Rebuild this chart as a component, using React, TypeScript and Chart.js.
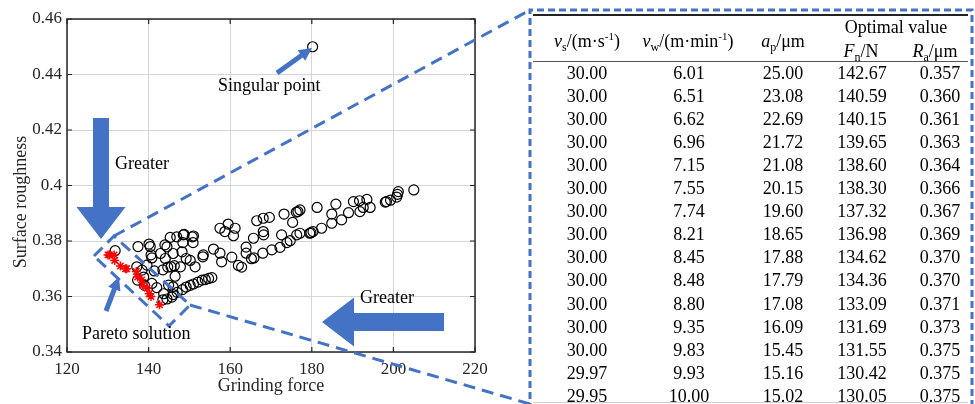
import React, { useEffect, useRef } from 'react';
import { Chart, registerables } from 'chart.js';

Chart.register(...registerables);

// ---------- Data ----------
const xTickValues = [120, 140, 160, 180, 200, 220];
const yTickLabels = ['0.34', '0.36', '0.38', '0.4', '0.42', '0.44', '0.46'];
const yTickValues = yTickLabels.map(Number);

// Pareto table (optimal solutions)
const vsCol = ['30.00', '30.00', '30.00', '30.00', '30.00', '30.00', '30.00', '30.00', '30.00', '30.00', '30.00', '30.00', '30.00', '29.97', '29.95'];
const vwCol = ['6.01', '6.51', '6.62', '6.96', '7.15', '7.55', '7.74', '8.21', '8.45', '8.48', '8.80', '9.35', '9.83', '9.93', '10.00'];
const apCol = ['25.00', '23.08', '22.69', '21.72', '21.08', '20.15', '19.60', '18.65', '17.88', '17.79', '17.08', '16.09', '15.45', '15.16', '15.02'];
const fnCol = ['142.67', '140.59', '140.15', '139.65', '138.60', '138.30', '137.32', '136.98', '134.62', '134.36', '133.09', '131.69', '131.55', '130.42', '130.05'];
const raCol = ['0.357', '0.360', '0.361', '0.363', '0.364', '0.366', '0.367', '0.369', '0.370', '0.370', '0.371', '0.373', '0.375', '0.375', '0.375'];

// Other (non-Pareto) solutions: grinding force / surface roughness
const otherForce = [
  180.2,
  205.0, 201.2, 201.0, 200.8, 199.3, 198.3, 198.0,
  194.3, 193.5, 192.6, 191.8, 191.7, 190.2, 189.0, 187.3, 185.9, 184.9, 184.9, 182.4, 181.3, 180.3, 179.8, 179.5,
  177.1, 176.6, 176.2, 177.1, 176.3, 175.3, 174.7, 173.9, 173.2, 172.6, 172.2, 170.2, 169.6, 168.1, 168.0, 168.1, 168.2,
  166.5, 165.7, 165.8, 165.2, 163.9, 163.9, 162.8, 162.0, 161.2, 160.8, 160.4, 159.5, 158.7, 157.9, 157.5, 157.5, 155.9,
  155.5, 154.7, 153.9, 153.1, 152.1, 151.0, 150.2, 149.2, 148.3, 147.0, 146.0, 145.7, 144.5, 143.5,
  153.4, 153.3, 151.4, 151.0, 150.9, 150.7, 150.2, 149.2, 148.7, 148.5, 148.4, 148.2, 147.8, 146.9, 146.5, 146.0,
  146.3, 146.0, 145.3, 145.5, 144.9, 144.7, 144.5, 144.1, 144.0, 143.7, 143.5, 142.9, 142.0, 141.4, 140.8, 140.6,
  140.4, 140.1, 140.8, 139.6, 139.0, 138.8, 138.4, 137.4, 137.1, 137.3, 131.8,
];
const otherRoughness = [
  0.450,
  0.3984, 0.3978, 0.3968, 0.3958, 0.3947, 0.3942, 0.3940,
  0.3921, 0.3950, 0.3921, 0.3906, 0.3945, 0.3942, 0.3902, 0.3876, 0.3933, 0.3897, 0.3864, 0.3846, 0.3921, 0.3834, 0.3830, 0.3828,
  0.3912, 0.3906, 0.3904, 0.3828, 0.3822, 0.3867, 0.3801, 0.3794, 0.3897, 0.3822, 0.3777, 0.3768, 0.3885, 0.3882, 0.3756, 0.3834, 0.3822,
  0.3873, 0.3810, 0.3739, 0.3736, 0.3778, 0.3756, 0.3706, 0.3712, 0.3846, 0.3819, 0.3742, 0.3861, 0.3834, 0.3725, 0.3846, 0.3756, 0.3771,
  0.3668, 0.3665, 0.3661, 0.3659, 0.3652, 0.3645, 0.3640, 0.3634, 0.3625, 0.3615, 0.3607, 0.3598, 0.3591, 0.3588,
  0.3750, 0.3743, 0.3707, 0.3818, 0.3794, 0.3815, 0.3730, 0.3737, 0.3824, 0.3822, 0.3794, 0.3761, 0.3707, 0.3815, 0.3673, 0.3635,
  0.3711, 0.3755, 0.3813, 0.3707, 0.3641, 0.3706, 0.3779, 0.3737, 0.3786, 0.3610, 0.3696, 0.3755, 0.3632, 0.3692, 0.3739, 0.3750,
  0.3780, 0.3789, 0.3647, 0.3713, 0.3640, 0.3670, 0.3695, 0.3780, 0.3707, 0.3659, 0.3765,
];

// ---------- Styles ----------
const BLUE = '#4472C4';
const SERIF = '"Liberation Serif", "Times New Roman", serif';
const AXIS_COLOR = '#262626';
const TEXT_COLOR = '#000000';

function blockArrow(ctx: CanvasRenderingContext2D, x1: number, y1: number, x2: number, y2: number, shaftW: number, headW: number, headL: number) {
  const dx = x2 - x1, dy = y2 - y1;
  const len = Math.hypot(dx, dy);
  const ux = dx / len, uy = dy / len;
  const px = -uy, py = ux;
  const bx = x2 - ux * headL, by = y2 - uy * headL;
  ctx.beginPath();
  ctx.moveTo(x1 + px * shaftW / 2, y1 + py * shaftW / 2);
  ctx.lineTo(bx + px * shaftW / 2, by + py * shaftW / 2);
  ctx.lineTo(bx + px * headW / 2, by + py * headW / 2);
  ctx.lineTo(x2, y2);
  ctx.lineTo(bx - px * headW / 2, by - py * headW / 2);
  ctx.lineTo(bx - px * shaftW / 2, by - py * shaftW / 2);
  ctx.lineTo(x1 - px * shaftW / 2, y1 - py * shaftW / 2);
  ctx.closePath();
  ctx.fill();
}

const framePlugin = {
  id: 'frame',
  beforeDatasetsDraw(chart: any) {
    const ctx: CanvasRenderingContext2D = chart.ctx;
    const { left, right, top, bottom } = chart.chartArea;
    const xs = chart.scales.x, ys = chart.scales.y;
    ctx.save();
    ctx.strokeStyle = AXIS_COLOR;
    ctx.lineWidth = 1.5;
    ctx.strokeRect(left, top, right - left, bottom - top);
    ctx.lineWidth = 1.2;
    ctx.beginPath();
    xTickValues.forEach((v) => {
      const x = xs.getPixelForValue(v);
      ctx.moveTo(x, bottom); ctx.lineTo(x, bottom - 5);
      ctx.moveTo(x, top); ctx.lineTo(x, top + 5);
    });
    yTickValues.forEach((v) => {
      const y = ys.getPixelForValue(v);
      ctx.moveTo(left, y); ctx.lineTo(left + 5, y);
      ctx.moveTo(right, y); ctx.lineTo(right - 5, y);
    });
    ctx.stroke();
    // y axis title
    ctx.fillStyle = AXIS_COLOR;
    ctx.font = `18px ${SERIF}`;
    ctx.textAlign = 'center';
    ctx.textBaseline = 'middle';
    ctx.translate(21, 202);
    ctx.rotate(-Math.PI / 2);
    ctx.fillText('Surface roughness', 0, 0);
    ctx.restore();
  },
  afterDraw(chart: any) {
    const ctx: CanvasRenderingContext2D = chart.ctx;
    ctx.save();
    ctx.strokeStyle = BLUE;
    ctx.fillStyle = BLUE;
    ctx.lineWidth = 3;
    // rotated box around Pareto front + zoom lines
    ctx.setLineDash([12, 7]);
    ctx.beginPath();
    ctx.moveTo(94, 256); ctx.lineTo(114, 236); ctx.lineTo(190, 305); ctx.lineTo(169, 326); ctx.closePath();
    ctx.stroke();
    ctx.beginPath();
    ctx.moveTo(114, 236); ctx.lineTo(530, 10);
    ctx.moveTo(190, 305); ctx.lineTo(530, 404);
    ctx.stroke();
    // table frame
    ctx.setLineDash([7, 4]);
    ctx.beginPath();
    ctx.moveTo(530, 410); ctx.lineTo(530, 10); ctx.lineTo(972, 10); ctx.lineTo(972, 410);
    ctx.stroke();
    ctx.setLineDash([]);
    // arrows
    blockArrow(ctx, 101, 118, 101, 239, 16, 49, 32);
    blockArrow(ctx, 444, 322, 322, 322, 18, 49, 32);
    blockArrow(ctx, 277, 73, 312, 48, 5, 13, 13);
    blockArrow(ctx, 106, 311, 119, 277, 5, 13, 13);
    ctx.restore();
  },
};

const annotations = [
  { text: 'Singular point', x: 218, y: 85 },
  { text: 'Greater', x: 115, y: 163 },
  { text: 'Greater', x: 360, y: 297 },
  { text: 'Pareto solution', x: 82, y: 333 },
];

const colCenters = [587, 689, 783, 862, 940];
const ROW0 = 73;
const ROW_H = 23.05;

const subStyle: React.CSSProperties = { fontSize: '12px', verticalAlign: '-4px', lineHeight: 0 };
const supStyle: React.CSSProperties = { fontSize: '11px', verticalAlign: '7px', lineHeight: 0 };

function Cell({ cx, cy, children }: { cx: number; cy: number; children: React.ReactNode }) {
  return (
    <div
      style={{
        position: 'absolute', left: cx - 80, top: cy - 11, width: 160, height: 22,
        lineHeight: '22px', textAlign: 'center', whiteSpace: 'nowrap',
        fontFamily: SERIF, fontSize: '18px', color: TEXT_COLOR,
      }}
    >
      {children}
    </div>
  );
}

export default function App() {
  const canvasRef = useRef<HTMLCanvasElement | null>(null);

  useEffect(() => {
    document.body.style.margin = '0';
    const canvas = canvasRef.current;
    if (!canvas) return;
    const chart = new Chart(canvas, {
      type: 'scatter',
      data: {
        datasets: [
          {
            label: 'Pareto solution',
            data: fnCol.map((f, i) => ({ x: Number(f), y: Number(raCol[i]) })),
            pointStyle: 'star',
            radius: 4.5,
            borderColor: '#ff0000',
            backgroundColor: '#ff0000',
            borderWidth: 1.5,
          },
          {
            label: 'Solutions',
            data: otherForce.map((f, i) => ({ x: f, y: otherRoughness[i] })),
            pointStyle: 'circle',
            radius: 5,
            borderColor: '#000000',
            backgroundColor: 'rgba(0,0,0,0)',
            borderWidth: 1.2,
          },
        ],
      },
      options: {
        responsive: false,
        animation: false,
        devicePixelRatio: 1,
        layout: { padding: { left: 0, right: 500, top: 19, bottom: 0 } },
        plugins: { legend: { display: false }, tooltip: { enabled: false } },
        scales: {
          x: {
            type: 'linear',
            min: 120,
            max: 220,
            afterBuildTicks: (axis: any) => { axis.ticks = xTickValues.map((v) => ({ value: v })); },
            afterFit: (axis: any) => { axis.height = 52; },
            ticks: { font: { family: SERIF, size: 17 }, color: AXIS_COLOR, padding: 7, maxRotation: 0 },
            grid: { color: '#d6d6d6', lineWidth: 1, drawTicks: false },
            border: { display: false },
            title: { display: true, text: 'Grinding force', font: { family: SERIF, size: 18 }, color: AXIS_COLOR, padding: { top: 0, bottom: 7 } },
          },
          y: {
            type: 'linear',
            min: 0.34,
            max: 0.46,
            afterBuildTicks: (axis: any) => { axis.ticks = yTickValues.map((v) => ({ value: v })); },
            afterFit: (axis: any) => { axis.width = 67; },
            ticks: {
              font: { family: SERIF, size: 17 },
              color: AXIS_COLOR,
              padding: 5,
              callback: (_v: any, i: number) => yTickLabels[i],
            },
            grid: { color: '#d6d6d6', lineWidth: 1, drawTicks: false },
            border: { display: false },
          },
        },
      },
      plugins: [framePlugin],
    } as any);
    return () => chart.destroy();
  }, []);

  const headerItems = [
    { cx: 587, cy: 41, node: (<span><i>v</i><sub style={subStyle}>s</sub>/(m·s<sup style={supStyle}>-1</sup>)</span>) },
    { cx: 688, cy: 41, node: (<span><i>v</i><sub style={subStyle}>w</sub>/(m·min<sup style={supStyle}>-1</sup>)</span>) },
    { cx: 783, cy: 41, node: (<span><i>a</i><sub style={subStyle}>p</sub>/μm</span>) },
    { cx: 896, cy: 27, node: (<span>Optimal value</span>) },
    { cx: 861, cy: 51, node: (<span><i>F</i><sub style={subStyle}>n</sub>/N</span>) },
    { cx: 935, cy: 51, node: (<span><i>R</i><sub style={subStyle}>a</sub>/μm</span>) },
  ];
  const cols = [vsCol, vwCol, apCol, fnCol, raCol];

  return (
    <div style={{ position: 'relative', width: 975, height: 404, background: '#fff', overflow: 'hidden' }}>
      <canvas ref={canvasRef} width={975} height={404} style={{ position: 'absolute', left: 0, top: 0, display: 'block' }} />
      {annotations.map((a, i) => (
        <div
          key={'a' + i}
          style={{
            position: 'absolute', left: a.x, top: a.y - 11, height: 22, lineHeight: '22px',
            fontFamily: SERIF, fontSize: '18px', color: TEXT_COLOR, whiteSpace: 'nowrap',
          }}
        >
          {a.text}
        </div>
      ))}
      {/* table rules */}
      <div style={{ position: 'absolute', left: 533, top: 14, width: 435, height: 2, background: '#222' }} />
      <div style={{ position: 'absolute', left: 533, top: 61, width: 435, height: 1, background: '#555' }} />
      <div style={{ position: 'absolute', left: 533, top: 402, width: 435, height: 1, background: '#d0d0d0' }} />
      {headerItems.map((h, i) => (
        <Cell key={'h' + i} cx={h.cx} cy={h.cy}>{h.node}</Cell>
      ))}
      {vsCol.map((_, r) =>
        cols.map((col, c) => (
          <Cell key={r + '-' + c} cx={colCenters[c]} cy={ROW0 + r * ROW_H}>{col[r]}</Cell>
        ))
      )}
    </div>
  );
}
